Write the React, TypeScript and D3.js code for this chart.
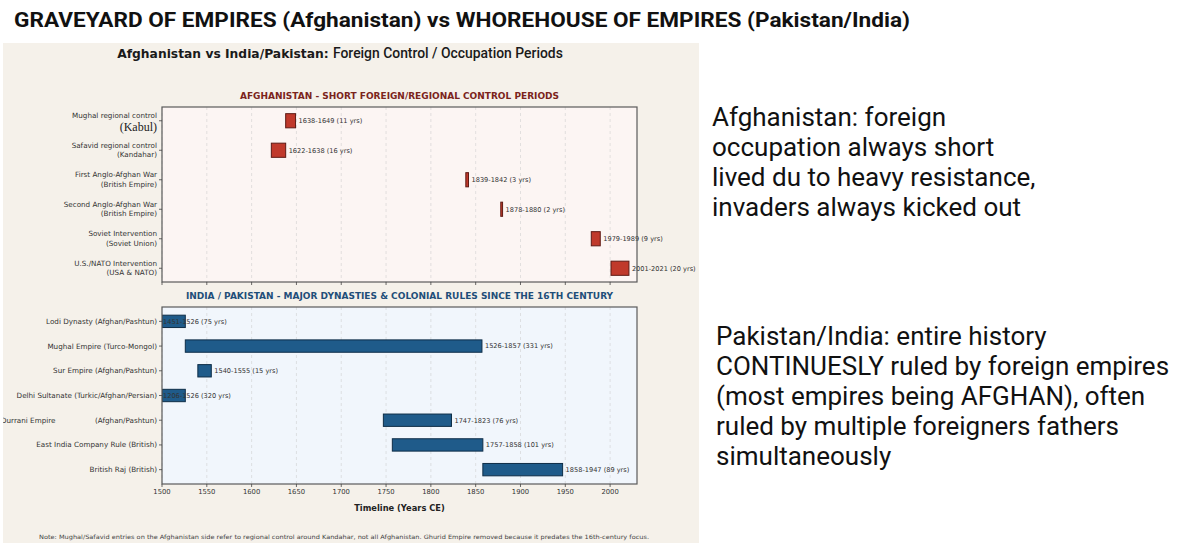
import React from "react";
import * as d3 from "d3";

// ---------- data ----------
const afghanNames = [
  "Mughal regional control",
  "Safavid regional control",
  "First Anglo-Afghan War",
  "Second Anglo-Afghan War",
  "Soviet Intervention",
  "U.S./NATO Intervention",
];
const afghanSubs = ["(Kabul)", "(Kandahar)", "(British Empire)", "(British Empire)", "(Soviet Union)", "(USA & NATO)"];
const afghanStart = [1638, 1622, 1839, 1878, 1979, 2001];
const afghanEnd = [1649, 1638, 1842, 1880, 1989, 2021];
const afghanText = [
  "1638-1649 (11 yrs)",
  "1622-1638 (16 yrs)",
  "1839-1842 (3 yrs)",
  "1878-1880 (2 yrs)",
  "1979-1989 (9 yrs)",
  "2001-2021 (20 yrs)",
];

const indiaNames = [
  "Lodi Dynasty (Afghan/Pashtun)",
  "Mughal Empire (Turco-Mongol)",
  "Sur Empire (Afghan/Pashtun)",
  "Delhi Sultanate (Turkic/Afghan/Persian)",
  "Durrani Empire|(Afghan/Pashtun)",
  "East India Company Rule (British)",
  "British Raj (British)",
];
const indiaStart = [1451, 1526, 1540, 1206, 1747, 1757, 1858];
const indiaEnd = [1526, 1857, 1555, 1526, 1823, 1858, 1947];
const indiaText = [
  "1451-1526 (75 yrs)",
  "1526-1857 (331 yrs)",
  "1540-1555 (15 yrs)",
  "1206-1526 (320 yrs)",
  "1747-1823 (76 yrs)",
  "1757-1858 (101 yrs)",
  "1858-1947 (89 yrs)",
];

const xTicks = [1500, 1550, 1600, 1650, 1700, 1750, 1800, 1850, 1900, 1950, 2000];
const xDomain = [1500, 2030];

const afghanNote = [
  "Afghanistan: foreign",
  "occupation always short",
  "lived du to heavy resistance,",
  "invaders always kicked out",
];
const indiaNote = [
  "Pakistan/India: entire history",
  "CONTINUESLY ruled by foreign empires",
  "(most empires being AFGHAN), often",
  "ruled by multiple foreigners fathers",
  "simultaneously",
];

// ---------- layout ----------
const W = 1200;
const H = 551;
const AX_L = 162;
const AX_R = 637;
const TOP = { y0: 107, y1: 282, r0: 106, r1: 283 };
const BOT = { y0: 307, y1: 484, r0: 309, r1: 482 };
const MPL = "'DejaVu Sans', sans-serif";
const LBL = 7.2;

const x = d3.scaleLinear().domain(xDomain).range([AX_L, AX_R]);

function Panel(props: {
  names: string[];
  subs?: string[];
  start: number[];
  end: number[];
  text: string[];
  frame: { y0: number; y1: number; r0: number; r1: number };
  bg: string;
  fill: string;
  stroke: string;
  title: string;
  titleColor: string;
  barFrac: number;
  showLabels: boolean;
  clipId: string;
}) {
  const { names, subs, start, end, text, frame, bg, fill, stroke, title, titleColor, barFrac, showLabels, clipId } = props;
  const y = d3.scalePoint<number>().domain(d3.range(names.length)).range([frame.r0, frame.r1]).padding(0.5);
  const bh = y.step() * barFrac;
  const xMin = xDomain[0];
  return (
    <g>
      <defs>
        <clipPath id={clipId}>
          <rect x={AX_L} y={frame.y0} width={AX_R - AX_L} height={frame.y1 - frame.y0} />
        </clipPath>
      </defs>
      <rect x={AX_L} y={frame.y0} width={AX_R - AX_L} height={frame.y1 - frame.y0} fill={bg} />
      {xTicks.map((t) => (
        <line key={t} x1={x(t)} x2={x(t)} y1={frame.y0} y2={frame.y1} stroke="#c8c8c8" strokeOpacity={0.7} strokeWidth={0.7} strokeDasharray="3,3" />
      ))}
      <g clipPath={`url(#${clipId})`}>
        {names.map((n, i) => (
          <rect
            key={n}
            x={x(Math.max(start[i], xMin))}
            y={(y(i) as number) - bh / 2}
            width={Math.max(1, x(end[i]) - x(Math.max(start[i], xMin)))}
            height={bh}
            fill={fill}
            stroke={stroke}
            strokeWidth={1}
          />
        ))}
      </g>
      {names.map((n, i) => (
        <text
          key={"t" + n}
          x={start[i] < xMin ? x(xMin) + 1 : x(end[i]) + 3}
          y={(y(i) as number) + 2.4}
          fontFamily={MPL}
          fontSize={6.6}
          fill="#333"
        >
          {text[i]}
        </text>
      ))}
      <rect x={AX_L} y={frame.y0} width={AX_R - AX_L} height={frame.y1 - frame.y0} fill="none" stroke="#5a5a5a" strokeWidth={1.2} />
      {/* y ticks and labels */}
      {names.map((n, i) => {
        const yy = y(i) as number;
        const parts = n.split("|");
        return (
          <g key={"y" + n}>
            <line x1={AX_L - 3} x2={AX_L} y1={yy} y2={yy} stroke="#444" strokeWidth={0.8} />
            {subs ? (
              <>
                <text x={AX_L - 5} y={yy - 2.4} textAnchor="end" fontFamily={MPL} fontSize={LBL} fill="#333">
                  {n}
                </text>
                {i === 0 ? (
                  <text x={AX_L - 5} y={yy + 10.5} textAnchor="end" fontFamily="'Liberation Serif', serif" fontSize={12} fill="#222">
                    {subs[i]}
                  </text>
                ) : (
                  <text x={AX_L - 5} y={yy + 7} textAnchor="end" fontFamily={MPL} fontSize={LBL} fill="#333">
                    {subs[i]}
                  </text>
                )}
              </>
            ) : parts.length > 1 ? (
              <>
                <text x={1} y={yy + 2.5} fontFamily={MPL} fontSize={LBL} fill="#333" clipPath="url(#outerClip)">
                  {parts[0]}
                </text>
                <text x={AX_L - 5} y={yy + 2.5} textAnchor="end" fontFamily={MPL} fontSize={LBL} fill="#333">
                  {parts[1]}
                </text>
              </>
            ) : (
              <text x={AX_L - 5} y={yy + 2.5} textAnchor="end" fontFamily={MPL} fontSize={LBL} fill="#333">
                {n}
              </text>
            )}
          </g>
        );
      })}
      {/* x ticks */}
      {xTicks.map((t) => (
        <g key={"x" + t}>
          <line x1={x(t)} x2={x(t)} y1={frame.y1} y2={frame.y1 + 3} stroke="#444" strokeWidth={0.8} />
          {showLabels && (
            <text x={x(t)} y={frame.y1 + 10} textAnchor="middle" fontFamily={MPL} fontSize={6.8} fill="#333">
              {t}
            </text>
          )}
        </g>
      ))}
      <text x={(AX_L + AX_R) / 2} y={frame.y0 - 8.3} textAnchor="middle" fontFamily={MPL} fontWeight="bold" fontSize={9} fill={titleColor}>
        {title}
      </text>
    </g>
  );
}

export default function App() {
  return (
    <svg width={W} height={H} style={{ position: "absolute", left: 0, top: 0, background: "#fff" }}>
      <defs>
        <clipPath id="outerClip">
          <rect x={3} y={43} width={696} height={500} />
        </clipPath>
      </defs>
      <rect x={0} y={0} width={W} height={H} fill="#fff" />
      <text x={14} y={27} fontFamily="Roboto, sans-serif" fontWeight="bold" fontSize={20.5} fill="#111" textLength={896} lengthAdjust="spacingAndGlyphs">
        GRAVEYARD OF EMPIRES (Afghanistan) vs WHOREHOUSE OF EMPIRES (Pakistan/India)
      </text>
      <rect x={3} y={43} width={696} height={500} fill="#f5f1ea" />
      <text x={340} y={57.5} textAnchor="middle" fill="#1a1a1a">
        <tspan fontFamily={MPL} fontWeight="bold" fontSize={12.3}>Afghanistan vs India/Pakistan: </tspan>
        <tspan fontFamily="Roboto, sans-serif" fontWeight={500} fontSize={13.9}>Foreign Control / Occupation Periods</tspan>
      </text>
      <Panel
        names={afghanNames}
        subs={afghanSubs}
        start={afghanStart}
        end={afghanEnd}
        text={afghanText}
        frame={TOP}
        bg="#fcf5f3"
        fill="#c0392b"
        stroke="#5e1a14"
        title="AFGHANISTAN - SHORT FOREIGN/REGIONAL CONTROL PERIODS"
        titleColor="#7b241c"
        barFrac={0.48}
        showLabels={false}
        clipId="clipTop"
      />
      <Panel
        names={indiaNames}
        start={indiaStart}
        end={indiaEnd}
        text={indiaText}
        frame={BOT}
        bg="#f1f6fc"
        fill="#1f5b8a"
        stroke="#0e2d47"
        title="INDIA / PAKISTAN - MAJOR DYNASTIES & COLONIAL RULES SINCE THE 16TH CENTURY"
        titleColor="#1f4e79"
        barFrac={0.5}
        showLabels={true}
        clipId="clipBot"
      />
      <text x={(AX_L + AX_R) / 2} y={511} textAnchor="middle" fontFamily={MPL} fontWeight="bold" fontSize={8.3} fill="#222">
        Timeline (Years CE)
      </text>
      <text x={39} y={539} fontFamily={MPL} fontSize={5.9} fill="#444" textLength={610} lengthAdjust="spacingAndGlyphs">
        Note: Mughal/Safavid entries on the Afghanistan side refer to regional control around Kandahar, not all Afghanistan. Ghurid Empire removed because it predates the 16th-century focus.
      </text>
      {afghanNote.map((s, i) => (
        <text key={s} x={712} y={126 + i * 30} fontFamily="Roboto, sans-serif" fontSize={26} fill="#111">
          {s}
        </text>
      ))}
      {indiaNote.map((s, i) => (
        <text key={s} x={716} y={345 + i * 30} fontFamily="Roboto, sans-serif" fontSize={26} fill="#111">
          {s}
        </text>
      ))}
    </svg>
  );
}
